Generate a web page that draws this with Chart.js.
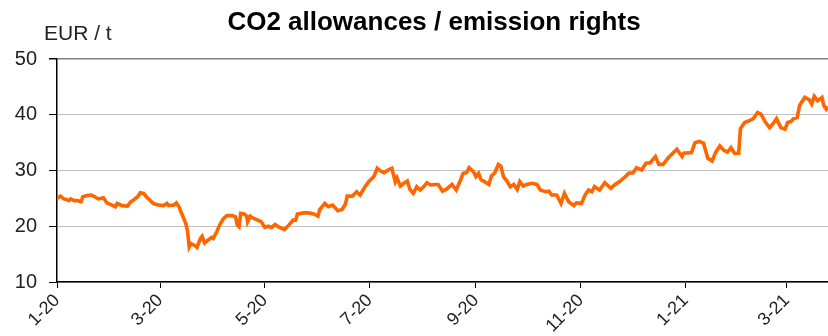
<!DOCTYPE html>
<html>
<head>
<meta charset="utf-8">
<script src="https://cdn.jsdelivr.net/npm/chart.js@4.4.1/dist/chart.umd.min.js"></script>
<style>
  html, body { margin: 0; padding: 0; background: #fff; }
  canvas { display: block; }
</style>
</head>
<body>
<canvas id="myChart" width="828" height="336"></canvas>
<script>
const ctx = document.getElementById('myChart').getContext('2d');

const chartTitle = 'CO2 allowances / emission rights';
const unitLabel = 'EUR / t';

// days since 1 Jan 2020
const days = [
  0, 2, 4, 5.5, 7, 8, 10, 12, 14, 15, 17.5, 20, 22, 24, 27, 29, 32, 34, 35, 38,
  41, 43, 45, 47, 48.5, 50.5, 52, 54, 56, 59, 62, 64, 65, 68, 69.5, 71, 73, 75, 76, 77,
  78, 80, 81.5, 83.5, 84.5, 86, 88, 90, 91, 93, 95, 97, 99, 102, 104, 105, 106, 107, 109, 110.5,
  111, 112.5, 114.5, 117, 119, 121, 123, 125, 127, 129, 132.5, 135, 137.5, 139, 140, 143.5, 146.5, 149.5, 152, 153,
  156, 158, 160.5, 163.5, 166, 168, 169, 172, 174.5, 176.5, 179, 181.5, 184.5, 186.5, 188.5, 190.5, 193, 195, 197, 198,
  200, 202, 204, 205.5, 207.5, 209.5, 211.5, 213.5, 215.5, 217.5, 220, 222, 224.5, 227, 230, 232.5, 235, 236.5, 238.5, 240,
  242.5, 244, 245.5, 247, 249, 251.5, 253, 255, 257, 258.5, 260, 262, 264, 266, 268, 269.5, 271.5, 273.5, 276.5, 279.5,
  281.5, 284.5, 286.5, 288, 291, 293.5, 295.5, 298, 301, 302.5, 305.5, 307.5, 309.5, 311.5, 313, 316, 319, 322.5, 325, 328,
  331, 333, 335.5, 337.5, 340.5, 343, 345.5, 348.5, 350.5, 353, 356, 359, 361, 364, 365, 369.5, 371.5, 374, 376.5, 379,
  381.5, 383.5, 386, 388.5, 390.5, 392.5, 394.5, 397, 398, 400.5, 403.5, 405.5, 408, 410, 412.5, 415, 417, 419, 421.5, 424,
  425.5, 427.5, 429, 431, 432.5, 435.5, 438, 439.5, 441, 443, 445.5, 446.5, 448, 449
];

const prices = [
  25.0, 25.4, 24.9, 24.8, 24.6, 24.9, 24.6, 24.6, 24.4, 25.3, 25.5, 25.6, 25.3, 24.9, 25.1, 24.2, 23.8, 23.5, 24.1, 23.7,
  23.6, 24.4, 24.8, 25.3, 26.0, 25.9, 25.3, 24.7, 24.1, 23.8, 23.7, 24.1, 23.7, 23.8, 24.2, 23.5, 22.0, 20.5, 19.2, 16.3,
  16.9, 16.6, 16.2, 17.8, 18.2, 17.0, 17.5, 18.0, 17.8, 19.0, 20.4, 21.4, 21.9, 21.9, 21.7, 20.2, 19.9, 22.3, 22.2, 21.8,
  20.8, 21.8, 21.4, 21.1, 20.8, 19.8, 20.0, 19.8, 20.3, 19.9, 19.4, 20.2, 21.1, 21.1, 22.2, 22.4, 22.4, 22.2, 21.8, 23.0,
  24.1, 23.5, 23.8, 22.8, 23.0, 24.0, 25.4, 25.4, 26.2, 25.6, 26.9, 28.0, 28.9, 30.4, 29.9, 29.6, 30.1, 30.4, 28.0, 28.7,
  27.2, 27.7, 28.1, 26.6, 25.9, 27.1, 26.5, 27.1, 27.8, 27.4, 27.5, 27.5, 26.3, 26.7, 27.5, 26.5, 28.3, 29.5, 29.6, 30.5,
  29.8, 28.9, 29.5, 28.3, 28.0, 27.5, 29.0, 29.6, 31.1, 30.8, 28.9, 28.1, 27.1, 27.5, 26.6, 28.0, 27.2, 27.5, 27.7, 27.5,
  26.5, 26.2, 26.3, 25.6, 25.6, 24.1, 25.9, 24.4, 23.7, 24.2, 24.1, 25.6, 26.5, 26.2, 27.1, 26.5, 27.8, 26.8, 27.5, 28.1,
  28.9, 29.5, 29.6, 30.5, 30.1, 31.3, 31.4, 32.5, 31.1, 31.1, 32.3, 33.2, 33.8, 32.5, 33.1, 33.2, 35.0, 35.2, 34.9, 32.2,
  31.7, 33.2, 34.4, 33.6, 33.3, 34.1, 33.1, 33.1, 37.5, 38.6, 39.0, 39.3, 40.4, 40.1, 38.7, 37.7, 38.4, 39.3, 37.7, 37.4,
  38.6, 38.8, 39.3, 39.5, 41.7, 43.1, 42.7, 41.9, 43.3, 42.5, 43.1, 41.7, 41.0, 41.5
];

// month ticks (days since 1 Jan 2020) and their labels
const tickDays = [0, 60, 121, 182, 244, 305, 366, 425];
const tickLabels = ['1-20', '3-20', '5-20', '7-20', '9-20', '11-20', '1-21', '3-21'];

const yTicks = [10, 20, 30, 40, 50];

const FONT = '"Liberation Sans", Arial, sans-serif';

// title and unit text above the plot
const headerText = {
  id: 'headerText',
  afterDraw(chart) {
    const c = chart.ctx;
    c.save();
    c.fillStyle = '#000';
    c.textBaseline = 'alphabetic';
    c.font = 'bold 26px ' + FONT;
    c.textAlign = 'center';
    c.fillText(chartTitle, 434, 30);
    c.font = '21px ' + FONT;
    c.textAlign = 'left';
    c.fillStyle = '#222';
    c.fillText(unitLabel, 44, 40);
    c.restore();
  }
};

const points = days.map((d, i) => ({ x: d, y: prices[i] }));

const myChart = new Chart(ctx, {
  type: 'line',
  data: {
    datasets: [{
      data: points,
      borderColor: '#ff6600',
      borderWidth: 3.6,
      pointRadius: 0,
      tension: 0,
      fill: false
    }]
  },
  options: {
    responsive: false,
    animation: false,
    devicePixelRatio: 1,
    layout: { padding: { top: 59, left: 0, right: 0, bottom: 0 } },
    plugins: {
      legend: { display: false },
      title: { display: false },
      tooltip: { enabled: false }
    },
    scales: {
      x: {
        type: 'linear',
        min: 0,
        max: 449,
        afterBuildTicks(scale) {
          scale.ticks = tickDays.map(v => ({ value: v }));
        },
        afterFit(scale) {
          scale.height = 54;
          scale.paddingLeft = 0;
          scale.paddingRight = 0;
        },
        border: { display: true, color: '#000', width: 1.5 },
        grid: {
          drawOnChartArea: false,
          drawTicks: true,
          tickLength: 6,
          tickColor: '#000'
        },
        ticks: {
          autoSkip: false,
          maxRotation: 45,
          minRotation: 45,
          padding: 2,
          color: '#222',
          font: { family: FONT, size: 18 },
          callback: (v) => tickLabels[tickDays.indexOf(v)]
        }
      },
      y: {
        min: 10,
        max: 50,
        afterBuildTicks(scale) {
          scale.ticks = yTicks.map(v => ({ value: v }));
        },
        afterFit(scale) {
          scale.width = 57;
        },
        border: { display: true, color: '#000', width: 1.5 },
        grid: {
          color: (c) => (c.tick && c.tick.value === 50 ? '#808080' : '#c0c0c0'),
          lineWidth: (c) => (c.tick && c.tick.value === 50 ? 1.5 : 1),
          tickLength: 8,
          tickColor: '#000'
        },
        ticks: {
          padding: 12,
          color: '#222',
          font: { family: FONT, size: 20 }
        }
      }
    }
  },
  plugins: [headerText]
});
</script>
</body>
</html>
